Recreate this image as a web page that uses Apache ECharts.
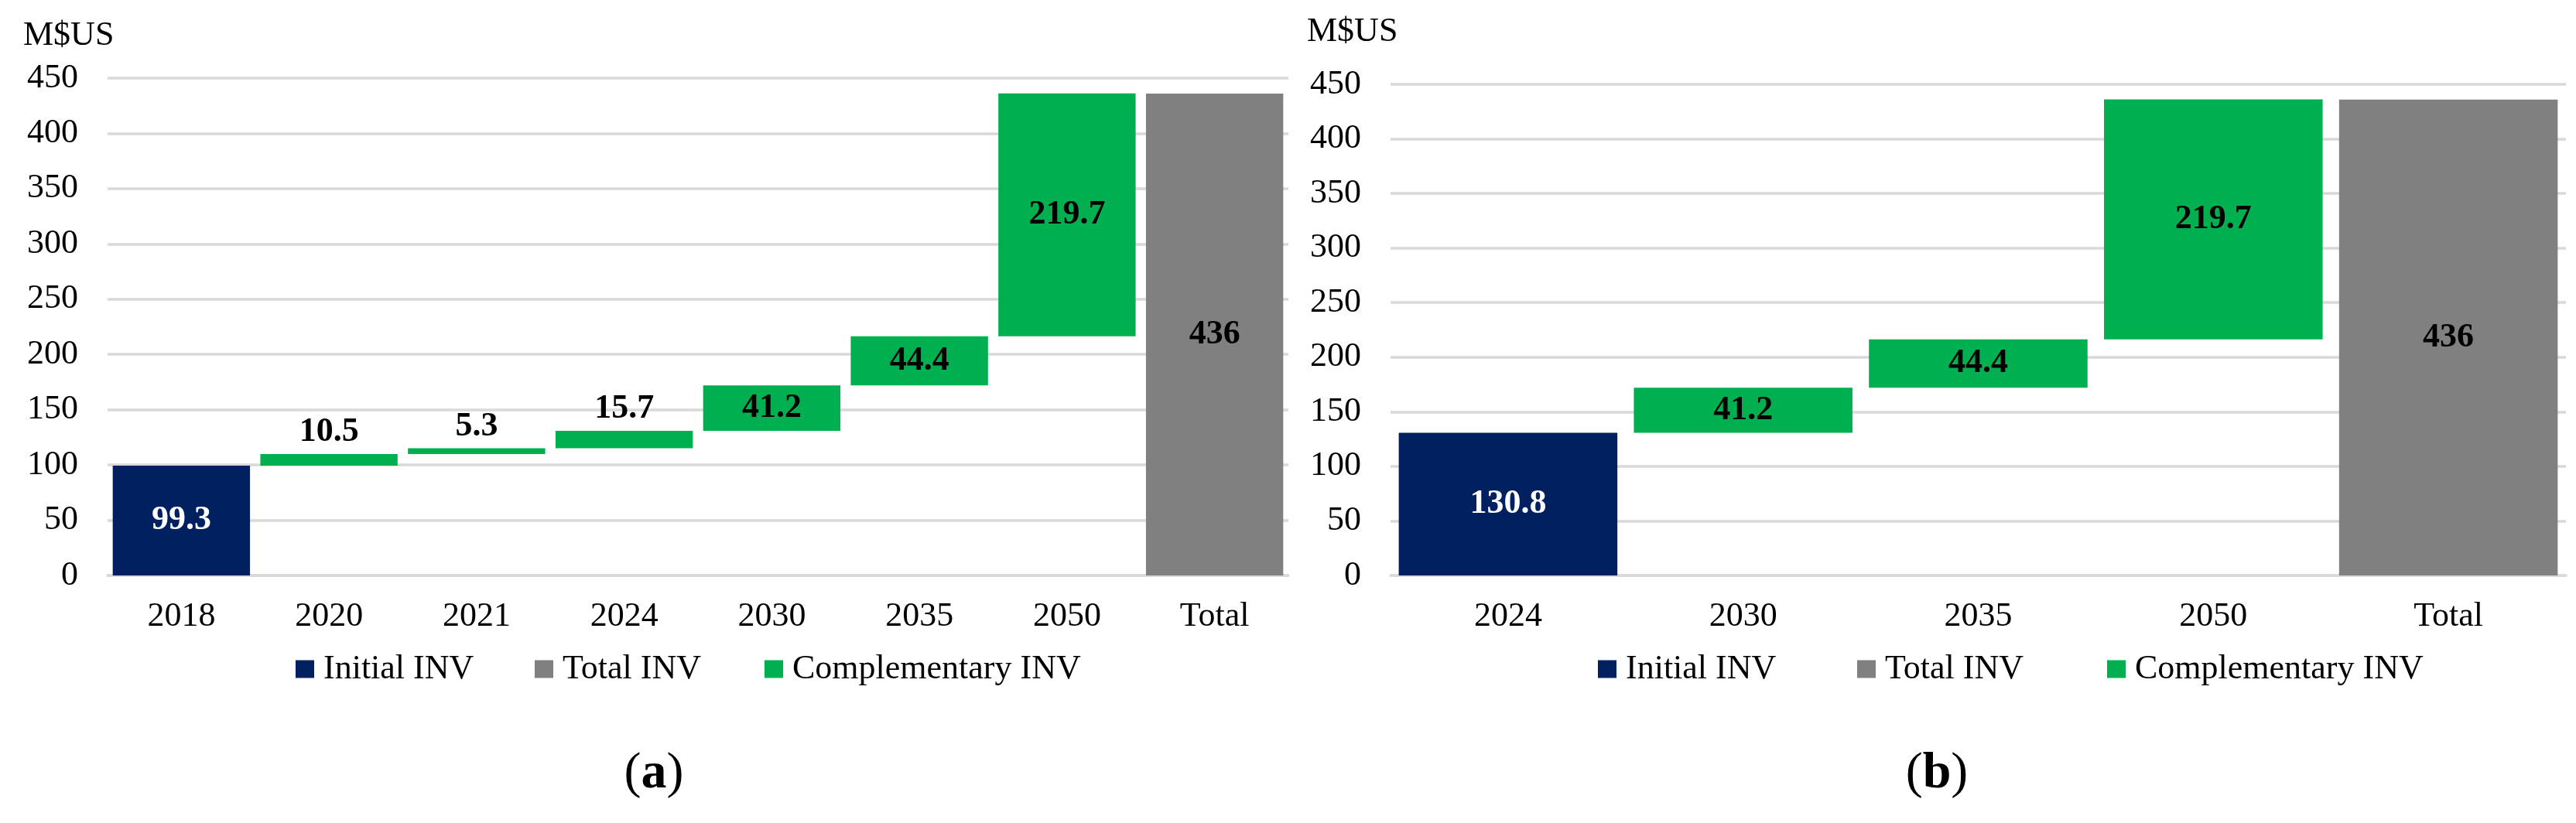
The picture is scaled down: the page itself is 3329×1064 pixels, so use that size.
<!DOCTYPE html>
<html><head><meta charset="utf-8">
<script src="https://cdn.jsdelivr.net/npm/echarts@6/dist/echarts.min.js"></script>
<style>html,body{margin:0;padding:0;background:#fff}#c{width:3329px;height:1064px}</style>
</head><body><div id="c"></div>
<script>
// ---- Data (a) ----
const categoriesA = ['2018','2020','2021','2024','2030','2035','2050','Total'];
const initialA = [99.3, null, null, null, null, null, null, null];
const complementaryA = [null, 10.5, 5.3, 15.7, 41.2, 44.4, 219.7, null];
const totalA = [null, null, null, null, null, null, null, 436];
// ---- Data (b) ----
const categoriesB = ['2024','2030','2035','2050','Total'];
const initialB = [130.8, null, null, null, null];
const complementaryB = [null, 41.2, 44.4, 219.7, null];
const totalB = [null, null, null, null, 436];
// ---- Axis ----
const yMin = 0, yMax = 450, yStep = 50;
const unitLabel = 'M$US';
const legendNames = ['Initial INV', 'Total INV', 'Complementary INV'];

const FONT = '"Liberation Serif", "Times New Roman", serif';
const C_INIT = '#002060', C_TOT = '#808080', C_COMP = '#00B050', GRID = '#D9D9D9';

function baseOf(init, comp) {
  let run = 0; const out = [];
  for (let i = 0; i < init.length; i++) {
    if (comp[i] != null) { out.push(run); run += comp[i]; }
    else { out.push('-'); if (init[i] != null) run += init[i]; }
  }
  return out;
}
const dash = a => a.map(v => v == null ? '-' : v);

function compData(arr) {
  return arr.map(v => {
    if (v == null) return '-';
    if (v < 20) return { value: v, label: { position: 'top', distance: 6 } };
    return { value: v };
  });
}

const labelBase = { show: true, fontFamily: FONT, fontSize: 44, fontWeight: 'bold' };

function seriesFor(idx, init, comp, tot) {
  const st = 's' + idx;
  const common = { type: 'bar', stack: st, xAxisIndex: idx, yAxisIndex: idx, barCategoryGap: '7%', animation: false };
  return [
    Object.assign({}, common, { name: 'base', data: baseOf(init, comp), itemStyle: { color: 'transparent' }, silent: true }),
    Object.assign({}, common, { name: 'Initial INV', data: dash(init), itemStyle: { color: C_INIT },
      label: Object.assign({}, labelBase, { position: 'inside', color: '#fff' }) }),
    Object.assign({}, common, { name: 'Total INV', data: dash(tot), itemStyle: { color: C_TOT },
      label: Object.assign({}, labelBase, { position: 'inside', color: '#000' }) }),
    Object.assign({}, common, { name: 'Complementary INV', data: compData(comp), itemStyle: { color: C_COMP },
      label: Object.assign({}, labelBase, { position: 'inside', color: '#000' }) })
  ];
}

function xAx(idx, cats) {
  return { type: 'category', gridIndex: idx, data: cats,
    axisLine: { lineStyle: { color: GRID, width: 3.5 } }, axisTick: { show: false },
    axisLabel: { fontFamily: FONT, fontSize: 44, color: '#000', margin: 31 } };
}
function yAx(idx) {
  return { type: 'value', gridIndex: idx, min: yMin, max: yMax, interval: yStep,
    axisLine: { show: false }, axisTick: { show: false },
    splitLine: { lineStyle: { color: GRID, width: 3.5 } },
    axisLabel: { fontFamily: FONT, fontSize: 44, color: '#000', margin: 38 } };
}
function legendItem(name, left) {
  return { data: [name], left: left, top: 838, orient: 'horizontal', icon: 'rect',
    itemWidth: 24, itemHeight: 23, selectedMode: false,
    textStyle: { fontFamily: FONT, fontSize: 44, color: '#000', padding: [0, 0, 0, 7] } };
}
const legendLeftA = [377, 686, 983];
const legendLeftB = [2060, 2395, 2718];
function caption(x, letter) {
  return { type: 'text', x: x, y: 1001, style: {
    text: '{n|(}{b|' + letter + '}{n|)}', align: 'center', verticalAlign: 'middle',
    rich: { n: { fontFamily: FONT, fontSize: 66, fill: '#000', color: '#000' },
            b: { fontFamily: FONT, fontSize: 66, fontWeight: 'bold', fill: '#000', color: '#000' } } } };
}
function unit(x, y) {
  return { type: 'text', x: x, y: y, style: { text: unitLabel, fontFamily: FONT, fontSize: 44, fill: '#000', verticalAlign: 'middle' } };
}

const chart = echarts.init(document.getElementById('c'));
chart.setOption({
  backgroundColor: '#fff',
  animation: false,
  grid: [
    { left: 139, top: 101, width: 1526, height: 643 },
    { left: 1797, top: 109, width: 1519, height: 635 }
  ],
  xAxis: [xAx(0, categoriesA), xAx(1, categoriesB)],
  yAxis: [yAx(0), yAx(1)],
  legend: legendNames.map((n, i) => legendItem(n, legendLeftA[i]))
    .concat(legendNames.map((n, i) => legendItem(n, legendLeftB[i]))),
  graphic: [unit(30, 46), unit(1689, 41), caption(845, 'a'), caption(2503, 'b')],
  series: seriesFor(0, initialA, complementaryA, totalA).concat(seriesFor(1, initialB, complementaryB, totalB))
});
</script></body></html>
